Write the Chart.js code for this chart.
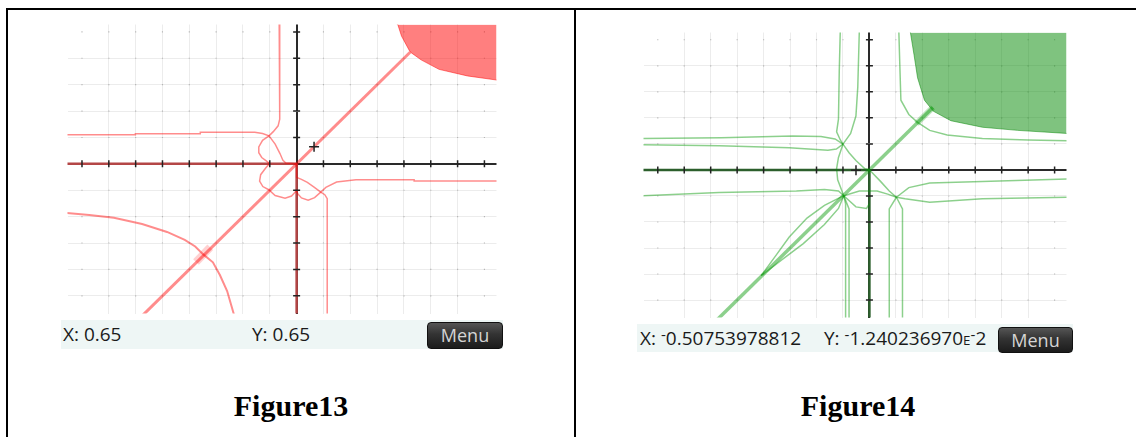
<!DOCTYPE html>
<html lang="en">
<head>
<meta charset="UTF-8" />
<title>Figure13 / Figure14</title>
<script src="https://cdn.jsdelivr.net/npm/chart.js"></script>
<style>
  body { margin:0; background:#fff; width:1136px; height:437px; overflow:hidden; position:relative; font-family:'Open Sans', 'DejaVu Sans', sans-serif; }
  .frame { position:absolute; left:6px; top:8px; width:1140px; height:440px; border-left:2px solid #000; border-top:2px solid #000; }
  .divider { position:absolute; left:574px; top:8px; width:2px; height:440px; background:#000; }
  .plot { position:absolute; }
  .status { position:absolute; background:#eef6f5; font-size:19px; color:#1a1a1a; }
  .status span.t { position:absolute; white-space:nowrap; }
  .menu { position:absolute; box-sizing:border-box; border:1px solid #111; border-radius:4px;
          background:linear-gradient(#555 0%, #333 45%, #1c1c1c 100%); color:#d4d4d4;
          font-size:18px; text-align:center; }
  .neg { font-size:0.8em; position:relative; top:-0.3em; }
  .ex { font-size:0.7em; }
  .caption { position:absolute; font-family:'Liberation Serif', 'Times New Roman', serif; font-weight:bold;
             font-size:30px; line-height:30px; text-align:center; color:#000; }
</style>
</head>
<body>
<div class="frame"></div>
<div class="divider"></div>

<div class="plot" style="left:61px; top:18px; width:442px; height:302px;"><canvas id="fig13"></canvas></div>
<div class="status" style="left:61px; top:320px; width:442px; height:29px;">
  <span class="t" style="left:2px; top:1px;">X: 0.65</span>
  <span class="t" style="left:191px; top:1px;">Y: 0.65</span>
</div>
<div class="menu" style="left:427px; top:322px; width:76px; height:27px; line-height:25px;">Menu</div>
<div class="caption" style="left:8px; top:391px; width:566px;">Figure13</div>

<div class="plot" style="left:637px; top:26px; width:436px; height:298px;"><canvas id="fig14"></canvas></div>
<div class="status" style="left:637px; top:324px; width:436px; height:28px;">
  <span class="t" style="left:3px; top:1px;">X: <span class="neg">-</span>0.50753978812</span>
  <span class="t" style="left:187px; top:1px;">Y: <span class="neg">-</span>1.240236970<span class="ex">E</span><span class="neg">-</span>2</span>
</div>
<div class="menu" style="left:998px; top:327px; width:75px; height:26px; line-height:24px;">Menu</div>
<div class="caption" style="left:576px; top:391px; width:564px;">Figure14</div>

<script>
  // plot window shared by both screens
  const xMin = -8.54, xMax = 7.45, yMin = -5.67, yMax = 5.28;
  const xTicks = [-8, -7, -6, -5, -4, -3, -2, -1, 1, 2, 3, 4, 5, 6, 7];
  const yTicks = [-5, -4, -3, -2, -1, 1, 2, 3, 4, 5];

  // ---- Figure13 (red) ----
  const redCursor = [[0.65, 0.65]];
  const redDiagonal = [[-5.9, -5.9], [4.23, 4.23]];
  const redRegionEdge = [[3.72, 5.4], [3.77, 5.28], [3.91, 4.84], [4.23, 4.24], [4.64, 3.94], [5.31, 3.58], [6.37, 3.33], [7.5, 3.17]];
  const redUpperH = [[-8.6, 1.10], [-6.01, 1.10], [-6.01, 1.14], [-3.59, 1.14], [-3.59, 1.20], [-1.56, 1.20], [-1.27, 1.15],
                     [-1.03, 1.06], [-0.80, 0.75], [-0.62, 0.39], [-0.51, 0.13], [-0.40, 0.03], [0, 0]];
  const redUpperV = [[-0.65, 5.4], [-0.65, 4.48], [-0.62, 4.41], [-0.62, 1.69], [-0.69, 1.44], [-0.87, 1.22], [-1.03, 1.06],
                     [-1.27, 0.89], [-1.41, 0.64], [-1.41, 0.42], [-1.30, 0.24], [-1.12, 0.10], [-1.01, 0.01], [-1.16, -0.17],
                     [-1.34, -0.41], [-1.38, -0.65], [-1.26, -0.86], [-1.04, -0.98], [-0.80, -1.20], [-0.43, -1.30],
                     [-0.19, -1.22], [-0.05, -1.07], [0, -0.99]];
  const redLowerH = [[7.5, -0.65], [4.38, -0.65], [4.38, -0.60], [2.21, -0.60], [1.49, -0.69], [1.09, -0.89], [0.90, -1.07],
                     [0.67, -1.28], [0.43, -1.38], [0.18, -1.29], [0.04, -1.13], [0, -1.03]];
  const redLowerV = [[1.14, -5.8], [1.14, -1.32], [1.05, -1.17], [0.90, -1.07], [0.65, -0.88], [0.40, -0.70], [0.18, -0.59],
                     [0, -0.51], [0, 0]];
  const redOuter = [[-8.6, -1.86], [-7.73, -1.94], [-6.81, -2.04], [-5.76, -2.28], [-4.83, -2.58], [-4.17, -2.88],
                    [-3.78, -3.13], [-3.48, -3.43], [-3.12, -3.73], [-2.86, -4.21], [-2.59, -4.82], [-2.31, -5.8]];
  const redKnot = [[-3.75, -3.72], [-3.22, -3.16]];

  // ---- Figure14 (green) ----
  const greenCursor = [[-0.5075, -0.0124]];
  const greenDiagonal = [[-5.9, -5.9], [2.4, 2.4]];
  const greenRegionEdge = [[1.53, 5.4], [1.55, 5.28], [1.69, 4.40], [1.82, 3.54], [2.08, 2.68], [2.41, 2.26], [3.08, 1.89],
                           [4.27, 1.64], [5.6, 1.52], [7.5, 1.40]];
  const greenUpperRight = [[1.11, 5.4], [1.15, 4.0], [1.19, 2.68], [1.49, 2.13], [1.82, 1.83], [2.28, 1.52], [2.94, 1.34],
                           [4.27, 1.21], [5.99, 1.15], [7.5, 1.12]];
  const greenUpperH1 = [[-8.6, 1.21], [-5.6, 1.24], [-2.9, 1.30], [-1.83, 1.28], [-1.3, 1.19], [-1.0, 0.99]];
  const greenUpperH2 = [[-8.6, 0.97], [-5.68, 0.93], [-3.03, 0.85], [-1.57, 0.76], [-1.25, 0.80], [-1.0, 0.99]];
  const greenUpperV1 = [[-1.10, 5.4], [-1.14, 3.79], [-1.17, 1.95], [-1.24, 1.46], [-1.10, 1.15], [-1.0, 0.99]];
  const greenUpperV2 = [[-0.38, 5.4], [-0.44, 3.18], [-0.51, 2.07], [-0.71, 1.40], [-1.0, 0.99]];
  const greenToOrigin = [[-1.0, 0.99], [-0.77, 0.66], [-0.51, 0.36], [-0.18, 0.05], [0, 0], [0.06, -0.06], [0.42, -0.44],
                         [0.75, -0.81], [1.02, -1.05]];
  const greenLeftLoop = [[-1.0, 0.99], [-1.17, 0.48], [-1.24, 0.05], [-1.20, -0.38], [-0.97, -0.99]];
  const greenLowerH = [[-8.6, -0.99], [-5.68, -0.87], [-2.76, -0.81], [-1.70, -0.75], [-1.17, -0.81], [-0.97, -0.99]];
  const greenLensUpper = [[-4.09, -4.06], [-3.56, -3.32], [-3.03, -2.58], [-2.36, -1.85], [-1.70, -1.36], [-0.97, -0.99]];
  const greenLensLower = [[-4.09, -4.06], [-3.29, -3.44], [-2.5, -2.83], [-1.70, -2.10], [-1.17, -1.48], [-0.97, -0.99]];
  const greenDownV1 = [[-0.97, -0.99], [-0.90, -1.3], [-0.90, -5.8]];
  const greenDownV2 = [[-0.97, -0.99], [-0.77, -1.5], [-0.77, -5.8]];
  const greenBelowLoop = [[-0.97, -0.99], [-0.51, -1.42], [-0.11, -1.48], [0, -1.3]];
  const greenMiddle = [[-0.97, -0.99], [-0.38, -0.81], [0.29, -0.81], [0.69, -0.93], [1.02, -1.05]];
  const greenRightH1 = [[7.5, -0.35], [4.27, -0.44], [2.28, -0.50], [1.49, -0.68], [1.02, -1.05]];
  const greenRightH2 = [[7.5, -1.05], [4.27, -1.11], [2.28, -1.24], [1.35, -1.11], [1.02, -1.05]];
  const greenRightV1 = [[1.02, -1.05], [0.75, -1.5], [0.75, -5.8]];
  const greenRightV2 = [[1.02, -1.05], [1.25, -1.5], [1.25, -5.8]];
  const greenKnot = [[1.78, 1.78], [2.4, 2.4]];

  const pts = arr => arr.map(p => ({ x: p[0], y: p[1] }));

  function curve(arr, color, width) {
    return { data: pts(arr), borderColor: color, borderWidth: width || 1.5, pointRadius: 0, fill: false, tension: 0 };
  }

  function region(arr, color) {
    return { data: pts(arr), borderColor: color, backgroundColor: color, borderWidth: 1, pointRadius: 0, fill: 'end', tension: 0 };
  }

  function axisMarks() {
    return [
      { data: xTicks.map(v => ({ x: v, y: 0 })), showLine: false, pointStyle: 'line', rotation: 90,
        pointRadius: 3.5, borderColor: '#222', borderWidth: 1.5 },
      { data: yTicks.map(v => ({ x: 0, y: v })), showLine: false, pointStyle: 'line', rotation: 0,
        pointRadius: 3.5, borderColor: '#222', borderWidth: 1.5 }
    ];
  }

  // small darker dots where the grid lines cross
  function gridDots() {
    const d = [];
    xTicks.forEach(x => yTicks.forEach(y => d.push({ x: x, y: y })));
    return { data: d, showLine: false, pointStyle: 'rect', pointRadius: 0.8, borderWidth: 0,
             backgroundColor: '#b5b5b5', borderColor: '#b5b5b5' };
  }

  function cursor(arr) {
    return { data: pts(arr), showLine: false, pointStyle: 'cross', pointRadius: 5, borderColor: '#222', borderWidth: 1.5 };
  }

  function halfAxes(color) {
    return [
      curve([[xMin - 1, 0], [0, 0]], color, 2.5),
      curve([[0, yMin - 1], [0, 0]], color, 2.5)
    ];
  }

  function gridScale(min, max) {
    return {
      type: 'linear', min: min, max: max,
      ticks: { display: false, stepSize: 1 },
      border: { display: false },
      grid: {
        drawTicks: false,
        color: c => (c.tick && c.tick.value === 0) ? '#2a2a2a' : '#ececec',
        lineWidth: c => (c.tick && c.tick.value === 0) ? 2 : 1
      },
      afterBuildTicks: s => { s.ticks = s.ticks.filter(t => Number.isInteger(t.value)); }
    };
  }

  function makeChart(id, datasets) {
    return new Chart(document.getElementById(id), {
      type: 'line',
      data: { datasets: datasets },
      options: {
        responsive: true, maintainAspectRatio: false, animation: false,
        layout: { padding: 0 },
        plugins: { legend: { display: false }, tooltip: { enabled: false } },
        scales: { x: gridScale(xMin, xMax), y: gridScale(yMin, yMax) }
      }
    });
  }

  const RED = 'rgba(255,0,0,0.45)';
  const RED_FILL = 'rgba(255,0,0,0.5)';
  makeChart('fig13', [
    cursor(redCursor),
    ...axisMarks(),
    curve(redDiagonal, RED, 3),
    curve(redKnot, 'rgba(255,0,0,0.18)', 8),
    curve(redUpperH, RED), curve(redUpperV, RED),
    curve(redLowerH, RED), curve(redLowerV, RED),
    curve(redOuter, RED, 2),
    ...halfAxes('#b44646'),
    region(redRegionEdge, RED_FILL),
    gridDots()
  ]);

  const GREEN = 'rgba(0,150,0,0.45)';
  const GREEN_FILL = 'rgba(0,136,0,0.5)';
  makeChart('fig14', [
    cursor(greenCursor),
    ...axisMarks(),
    curve(greenDiagonal, GREEN, 3.5),
    curve(greenKnot, 'rgba(0,150,0,0.25)', 6),
    curve(greenUpperRight, GREEN),
    curve(greenUpperH1, GREEN), curve(greenUpperH2, GREEN),
    curve(greenUpperV1, GREEN), curve(greenUpperV2, GREEN),
    curve(greenToOrigin, GREEN), curve(greenLeftLoop, GREEN),
    curve(greenLowerH, GREEN), curve(greenLensUpper, GREEN), curve(greenLensLower, GREEN),
    curve(greenDownV1, GREEN), curve(greenDownV2, GREEN),
    curve(greenBelowLoop, GREEN), curve(greenMiddle, GREEN),
    curve(greenRightH1, GREEN), curve(greenRightH2, GREEN),
    curve(greenRightV1, GREEN), curve(greenRightV2, GREEN),
    ...halfAxes('#2c5f2c'),
    region(greenRegionEdge, GREEN_FILL),
    gridDots()
  ]);
</script>
</body>
</html>
